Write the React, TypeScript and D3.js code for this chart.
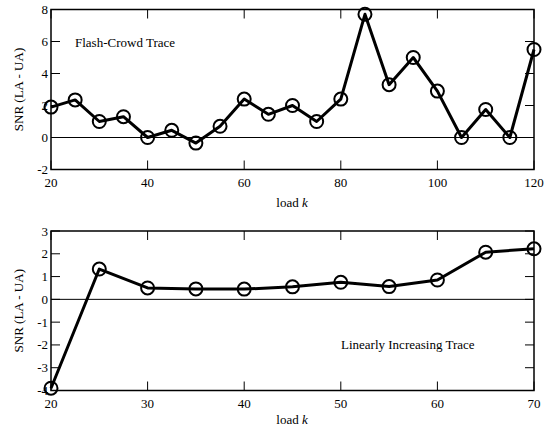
import React, { useEffect, useRef } from 'react';
import * as d3 from 'd3';

// Flash-crowd trace (top panel)
const flashLoad = [20, 25, 30, 35, 40, 45, 50, 55, 60, 65, 70, 75, 80, 85, 90, 95, 100, 105, 110, 115, 120];
const flashSnr = [1.9, 2.35, 1.0, 1.3, 0.0, 0.45, -0.35, 0.7, 2.4, 1.45, 2.0, 1.0, 2.4, 7.7, 3.3, 5.0, 2.9, 0.0, 1.75, 0.0, 5.5];
const flashXTicks = [20, 40, 60, 80, 100, 120];
const flashYTicks = [-2, 0, 2, 4, 6, 8];

// Linearly increasing trace (bottom panel)
const linLoad = [20, 25, 30, 35, 40, 45, 50, 55, 60, 65, 70];
const linSnr = [-3.9, 1.33, 0.5, 0.46, 0.45, 0.55, 0.75, 0.56, 0.85, 2.07, 2.22];
const linXTicks = [20, 30, 40, 50, 60, 70];
const linYTicks = [-4, -3, -2, -1, 0, 1, 2, 3];

const FONT = "'Liberation Serif', 'DejaVu Serif', serif";

type Panel = {
  load: number[];
  snr: number[];
  xTicks: number[];
  yTicks: number[];
  xDomain: [number, number];
  yDomain: [number, number];
  top: number;
  bottom: number;
  label: string;
  labelX: number;
  labelY: number;
  titleOffset: number;
};

const App = () => {
  const ref = useRef<SVGSVGElement>(null);

  useEffect(() => {
    const svg = d3.select(ref.current);
    svg.selectAll('*').remove();

    const left = 51;
    const right = 534;

    const panels: Panel[] = [
      {
        load: flashLoad, snr: flashSnr, xTicks: flashXTicks, yTicks: flashYTicks,
        xDomain: [20, 120], yDomain: [-2, 8], top: 9.5, bottom: 169.5,
        label: 'Flash-Crowd Trace', labelX: 75, labelY: 47, titleOffset: 37,
      },
      {
        load: linLoad, snr: linSnr, xTicks: linXTicks, yTicks: linYTicks,
        xDomain: [20, 70], yDomain: [-4, 3], top: 231, bottom: 390.5,
        label: 'Linearly Increasing Trace', labelX: 341, labelY: 349, titleOffset: 33.5,
      },
    ];

    panels.forEach((p) => {
      const x = d3.scaleLinear().domain(p.xDomain).range([left, right]);
      const y = d3.scaleLinear().domain(p.yDomain).range([p.bottom, p.top]);
      const g = svg.append('g');
      const tickLen = 9;

      // zero line
      g.append('line')
        .attr('x1', left).attr('x2', right)
        .attr('y1', y(0)).attr('y2', y(0))
        .attr('stroke', '#000').attr('stroke-width', 1);

      // ticks (inward, mirrored)
      p.xTicks.forEach((t) => {
        g.append('line').attr('x1', x(t)).attr('x2', x(t))
          .attr('y1', p.bottom).attr('y2', p.bottom - tickLen)
          .attr('stroke', '#000').attr('stroke-width', 1);
        g.append('line').attr('x1', x(t)).attr('x2', x(t))
          .attr('y1', p.top).attr('y2', p.top + tickLen)
          .attr('stroke', '#000').attr('stroke-width', 1);
        g.append('text')
          .attr('x', x(t)).attr('y', p.bottom + 17)
          .attr('text-anchor', 'middle')
          .style('font-family', FONT).style('font-size', '13px')
          .text(t);
      });
      p.yTicks.forEach((t) => {
        g.append('line').attr('x1', left).attr('x2', left + tickLen)
          .attr('y1', y(t)).attr('y2', y(t))
          .attr('stroke', '#000').attr('stroke-width', 1);
        g.append('line').attr('x1', right).attr('x2', right - tickLen)
          .attr('y1', y(t)).attr('y2', y(t))
          .attr('stroke', '#000').attr('stroke-width', 1);
        g.append('text')
          .attr('x', left - 3).attr('y', y(t) + 4.5)
          .attr('text-anchor', 'end')
          .style('font-family', FONT).style('font-size', '13px')
          .text(t);
      });

      // frame
      g.append('rect')
        .attr('x', left).attr('y', p.top)
        .attr('width', right - left).attr('height', p.bottom - p.top)
        .attr('fill', 'none').attr('stroke', '#000').attr('stroke-width', 1.5);

      // series
      const pts = p.load.map((k, i) => [k, p.snr[i]] as [number, number]);
      g.append('path')
        .datum(pts)
        .attr('fill', 'none')
        .attr('stroke', '#000')
        .attr('stroke-width', 3)
        .attr('stroke-linejoin', 'round')
        .attr('d', d3.line<[number, number]>().x((d) => x(d[0])).y((d) => y(d[1])));

      g.selectAll('circle.pt')
        .data(pts)
        .enter()
        .append('circle')
        .attr('cx', (d) => x(d[0]))
        .attr('cy', (d) => y(d[1]))
        .attr('r', 6.5)
        .attr('fill', 'none')
        .attr('stroke', '#000')
        .attr('stroke-width', 2);

      // panel label
      g.append('text')
        .attr('x', p.labelX).attr('y', p.labelY)
        .style('font-family', FONT).style('font-size', '13px')
        .text(p.label);

      // axis titles
      g.append('text')
        .attr('transform', `translate(23,${(p.top + p.bottom) / 2}) rotate(-90)`)
        .attr('text-anchor', 'middle')
        .style('font-family', FONT).style('font-size', '13px')
        .text('SNR (LA - UA)');

      const xl = g.append('text')
        .attr('x', 292).attr('y', p.bottom + p.titleOffset)
        .attr('text-anchor', 'middle')
        .style('font-family', FONT).style('font-size', '13px');
      xl.append('tspan').text('load ');
      xl.append('tspan').style('font-style', 'italic').text('k');
    });
  }, []);

  return (
    <svg
      ref={ref}
      width={553}
      height={432}
      style={{ position: 'absolute', left: 0, top: 0, background: '#fff', fontFamily: FONT }}
    />
  );
};

export default App;
